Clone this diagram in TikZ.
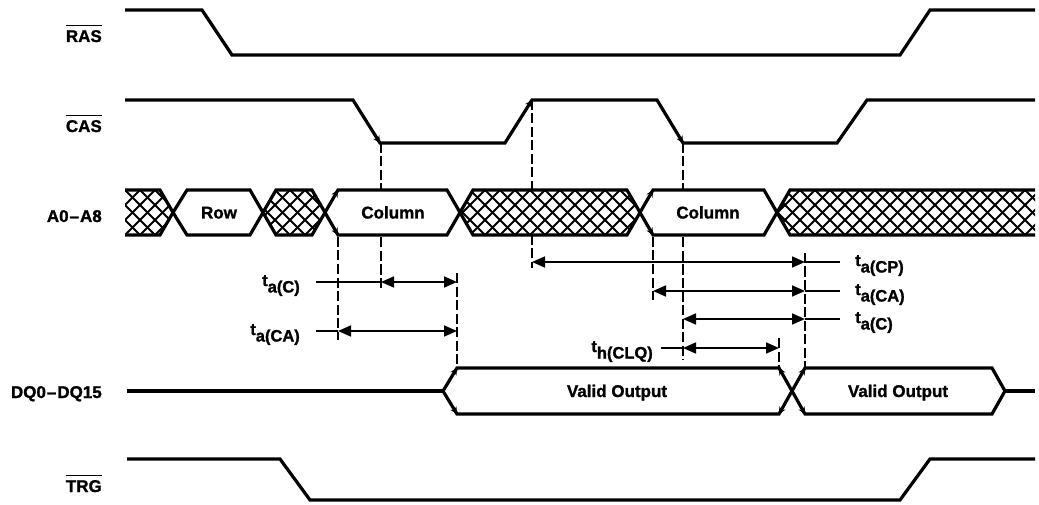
\documentclass[tikz,border=0pt]{standalone}
\usepackage{fontspec}
\setmainfont{Liberation Sans}[BoldFeatures={FakeBold=1.3}]
\usetikzlibrary{arrows.meta,calc}
\newcommand\mytsub[2]{#1\raisebox{-6.5pt}{#2}}
\begin{document}
\begin{tikzpicture}[x=1pt,y=-1pt,
  sig/.style={line width=3.2pt, line join=miter},
  busline/.style={line width=3.2pt, line join=miter},
  hatchline/.style={line width=2pt},
  guide/.style={line width=1.3pt, dash pattern=on 10pt off 3.5pt},
  dim/.style={line width=1.7pt},
  dimarrows/.style={dim, {Triangle[length=13pt,width=11pt]}-{Triangle[length=13pt,width=11pt]}},
  refmark/.style={line width=1.3pt, -{Stealth[length=7pt,width=7pt]}},
  lbl/.style={font=\fontsize{17}{20}\selectfont\bfseries, inner sep=0pt},
  tlbl/.style={font=\fontsize{16.5}{19}\selectfont\bfseries, inner sep=0pt},
  ovl/.style={line width=1.5pt},
]
\useasboundingbox (0,0) rectangle (1039,505);

% ---------- dashed guide lines ----------
\draw[guide] (338,237) -- (338,340);
\draw[guide] (381,143) -- (381,290);
\draw[guide] (457,273) -- (457,368);
\draw[guide] (532,100) -- (532,268);
\draw[guide] (653,237) -- (653,300);
\draw[guide] (683,143) -- (683,360);
\draw[guide] (805,253) -- (805,368);
\draw[guide] (779,338) -- (779,368);

% ---------- RAS ----------
\draw[sig] (125,10) -- (202,10) -- (232,55) -- (900,55) -- (930,10) -- (1035,10);
% ---------- CAS ----------
\draw[sig] (125,100) -- (353,100) -- (380,143) -- (505,143) -- (532,100)
  -- (657,100) -- (683,143) -- (837,143) -- (867,100) -- (1035,100);
% ---------- TRG ----------
\draw[sig] (127,459) -- (280,459) -- (310,500) -- (900,500) -- (930,459) -- (1035,459);

% ---------- address bus ----------
\fill[white] (125,190) -- (160,190) -- (173,212.5) -- (160,235) -- (125,235) -- cycle;
\fill[white] (263,212.5) -- (276,190) -- (312,190) -- (325,212.5) -- (312,235) -- (276,235) -- cycle;
\fill[white] (460,212.5) -- (473,190) -- (627,190) -- (640,212.5) -- (627,235) -- (473,235) -- cycle;
\fill[white] (777,212.5) -- (790,190) -- (1035,190) -- (1035,235) -- (790,235) -- cycle;
\begin{scope}
\clip (125,190) -- (160,190) -- (173,212.5) -- (160,235) -- (125,235) -- cycle
      (263,212.5) -- (276,190) -- (312,190) -- (325,212.5) -- (312,235) -- (276,235) -- cycle
      (460,212.5) -- (473,190) -- (627,190) -- (640,212.5) -- (627,235) -- (473,235) -- cycle
      (777,212.5) -- (790,190) -- (1035,190) -- (1035,235) -- (790,235) -- cycle;
\foreach \x in {80,95,...,1050} {
  \draw[hatchline] (\x,190) -- ++(45,45);
  \draw[hatchline] (\x,235) -- ++(45,-45);
}
\end{scope}
\draw[busline] (125,190) -- (160,190) -- (173,212.5) -- (160,235) -- (125,235);
\draw[busline,fill=white] (173,212.5) -- (187,190) -- (250,190) -- (263,212.5) -- (250,235) -- (187,235) -- cycle;
\draw[busline] (263,212.5) -- (276,190) -- (312,190) -- (325,212.5) -- (312,235) -- (276,235) -- cycle;
\draw[busline,fill=white] (325,212.5) -- (338,190) -- (447,190) -- (460,212.5) -- (447,235) -- (338,235) -- cycle;
\draw[busline] (460,212.5) -- (473,190) -- (627,190) -- (640,212.5) -- (627,235) -- (473,235) -- cycle;
\draw[busline,fill=white] (640,212.5) -- (653,190) -- (764,190) -- (777,212.5) -- (764,235) -- (653,235) -- cycle;
\draw[busline] (1035,190) -- (790,190) -- (777,212.5) -- (790,235) -- (1035,235);

\node[lbl, anchor=base] (row) at (219,218.5) {Row};
\node[lbl, anchor=base] (col1) at (393,218.5) {Column};
\node[lbl, anchor=base] (col2) at (708,218.5) {Column};

% ---------- data bus ----------
\draw[sig] (127,391) -- (443,391);
\draw[busline,fill=white] (443,391) -- (457,368) -- (779,368) -- (792,391) -- (779,414) -- (457,414) -- cycle;
\draw[busline,fill=white] (792,391) -- (805,368) -- (992,368) -- (1005,391) -- (992,414) -- (805,414) -- cycle;
\draw[sig] (1005,391) -- (1035,391);
\node[lbl, anchor=base] (vo1) at (617,397) {Valid Output};
\node[lbl, anchor=base] (vo2) at (898,397) {Valid Output};

% ---------- reference marks ----------
\draw[refmark] ($(380,143)!0.3!(353,100)$) -- (380,143);
\draw[refmark] ($(532,100)!0.3!(505,143)$) -- (532,100);
\draw[refmark] ($(683,143)!0.3!(657,100)$) -- (683,143);
\draw[refmark] ($(338,190)!0.45!(325,212.5)$) -- (338,190);
\draw[refmark] ($(338,235)!0.45!(325,212.5)$) -- (338,235);
\draw[refmark] ($(653,190)!0.45!(640,212.5)$) -- (653,190);
\draw[refmark] ($(653,235)!0.45!(640,212.5)$) -- (653,235);
\draw[refmark] ($(457,368)!0.45!(443,391)$) -- (457,368);
\draw[refmark] ($(457,414)!0.45!(443,391)$) -- (457,414);
\draw[refmark] ($(779,368)!0.45!(792,391)$) -- (779,368);
\draw[refmark] ($(779,414)!0.45!(792,391)$) -- (779,414);
\draw[refmark] ($(805,368)!0.45!(792,391)$) -- (805,368);
\draw[refmark] ($(805,414)!0.45!(792,391)$) -- (805,414);

% ---------- signal names ----------
\node[lbl, anchor=base east] (ras) at (102,42) {RAS};
\draw[ovl] ([yshift=4.5pt]ras.north west) -- ([yshift=4.5pt]ras.north east);
\node[lbl, anchor=base east] (cas) at (102,132) {CAS};
\draw[ovl] ([yshift=4.5pt]cas.north west) -- ([yshift=4.5pt]cas.north east);
\node[lbl, anchor=base east] (addr) at (102,222) {A0\kern1pt–\kern1ptA8};
\node[lbl, anchor=base east] (dq) at (102,398) {DQ0\kern1pt–\kern1ptDQ15};
\node[lbl, anchor=base east] (trg) at (102,492) {TRG};
\draw[ovl] ([yshift=4.5pt]trg.north west) -- ([yshift=4.5pt]trg.north east);

% ---------- timing labels and dimensions ----------
\node[tlbl, anchor=base east] (tc1) at (300,286) {\mytsub{t}{a(C)}};
\draw[dim] (316,282) -- (381,282);
\draw[dimarrows] (381,282) -- (457,282);

\node[tlbl, anchor=base east] (tca1) at (300,335) {\mytsub{t}{a(CA)}};
\draw[dim] (316,331) -- (338,331);
\draw[dimarrows] (338,331) -- (457,331);

\node[tlbl, anchor=base west] (tcp) at (855,266) {\mytsub{t}{a(CP)}};
\draw[dimarrows] (532,262) -- (805,262);
\draw[dim] (805,262) -- (840,262);

\node[tlbl, anchor=base west] (tca2) at (855,295) {\mytsub{t}{a(CA)}};
\draw[dimarrows] (653,291) -- (805,291);
\draw[dim] (805,291) -- (840,291);

\node[tlbl, anchor=base west] (tc2) at (855,323) {\mytsub{t}{a(C)}};
\draw[dimarrows] (683,319) -- (805,319);
\draw[dim] (805,319) -- (840,319);

\node[tlbl, anchor=base east] (tclq) at (653,352) {\mytsub{t}{h(CLQ)}};
\draw[dim] (661,348) -- (683,348);
\draw[dimarrows] (683,348) -- (779,348);
\end{tikzpicture}
\end{document}
